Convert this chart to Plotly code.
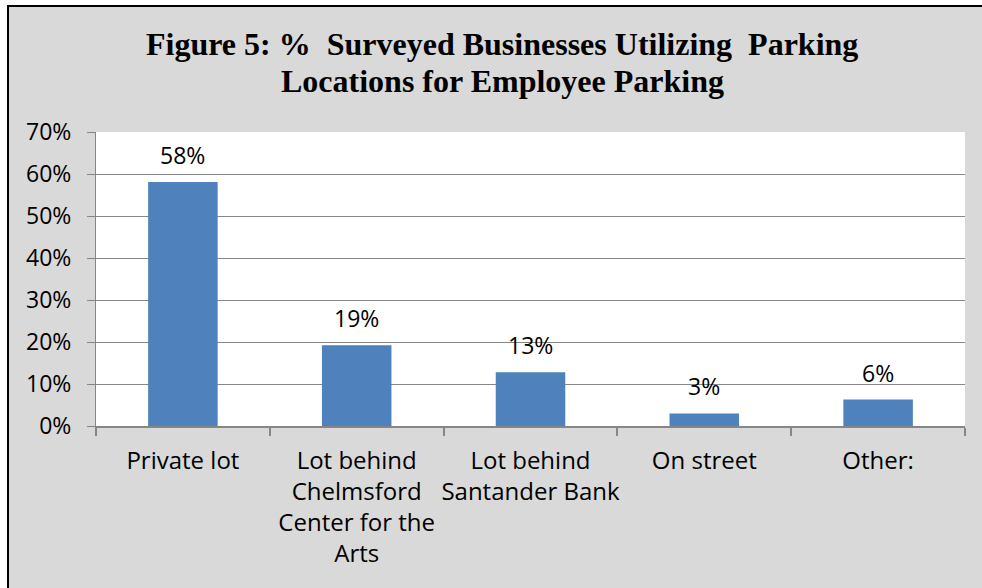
import plotly.graph_objects as go

categories = ["Private lot",
              "Lot behind<br>Chelmsford<br>Center for the<br>Arts",
              "Lot behind<br>Santander Bank",
              "On street",
              "Other:"]
values = [58.1, 19.2, 12.8, 3.0, 6.3]
y_ticks = [0, 10, 20, 30, 40, 50, 60, 70]
title_lines = ["Figure 5: %  Surveyed Businesses Utilizing  Parking",
               "Locations for Employee Parking"]

W, H = 982, 588
L, R, T, B = 96, 965, 132, 426
ML, MR, MT, MB = L, W - R, T, H - B

def px(x):
    return (x - L) / (R - L)

def py(y):
    return (B - y) / (B - T)

BAR = "#4f81bd"
GRID = "#868686"
FONT = "Open Sans"
FS = 23

fig = go.Figure(go.Bar(
    x=categories, y=values, marker=dict(color=BAR, line=dict(width=0)),
    hoverinfo="skip",
))

for c, v in zip(categories, values):
    fig.add_annotation(x=c, y=v, text=f"{round(v)}%", showarrow=False,
                       xref="x", yref="y", yanchor="middle", yshift=27,
                       font=dict(family=FONT, size=FS, color="black"))

for line, yc in zip(title_lines, [44, 81]):
    fig.add_annotation(x=px(502), y=py(yc), xref="paper", yref="paper",
                       text=line, showarrow=False, xanchor="center", yanchor="middle",
                       font=dict(family="Liberation Serif", size=32, color="black", weight="bold"))

shapes = [
    dict(type="rect", xref="paper", yref="paper", x0=px(0), x1=px(7), y0=py(H), y1=py(0),
         fillcolor="white", line=dict(width=0), layer="above"),
    dict(type="rect", xref="paper", yref="paper", x0=px(0), x1=px(W), y0=py(5), y1=py(0),
         fillcolor="white", line=dict(width=0), layer="above"),
    dict(type="line", xref="paper", yref="paper", x0=px(8), x1=px(8), y0=py(5), y1=py(H),
         line=dict(color="black", width=2), layer="above"),
    dict(type="line", xref="paper", yref="paper", x0=px(7), x1=px(W), y0=py(6), y1=py(6),
         line=dict(color="black", width=2), layer="above"),
]

fig.update_layout(
    width=W, height=H,
    margin=dict(l=ML, r=MR, t=MT, b=MB, autoexpand=False),
    paper_bgcolor="#d9d9d9", plot_bgcolor="white",
    bargap=0.6, showlegend=False,
    shapes=shapes,
    font=dict(family=FONT, size=FS, color="black"),
)
fig.update_yaxes(range=[0, 70], tickvals=y_ticks, ticktext=[f"{t}%" for t in y_ticks],
                 showgrid=True, gridcolor=GRID, gridwidth=1,
                 showline=True, linecolor=GRID, linewidth=1,
                 ticks="outside", ticklen=8, tickcolor=GRID, ticklabelstandoff=11,
                 zeroline=False, fixedrange=True)
fig.update_xaxes(showline=True, linecolor=GRID, linewidth=2, tickangle=0,
                 tickfont=dict(size=24),
                 ticks="outside", ticklen=8, tickcolor=GRID, tickwidth=2, tickson="boundaries",
                 ticklabelstandoff=12, fixedrange=True)

fig.write_html("out.html", config={"displayModeBar": False},
               post_script="document.body.style.margin='0';")
